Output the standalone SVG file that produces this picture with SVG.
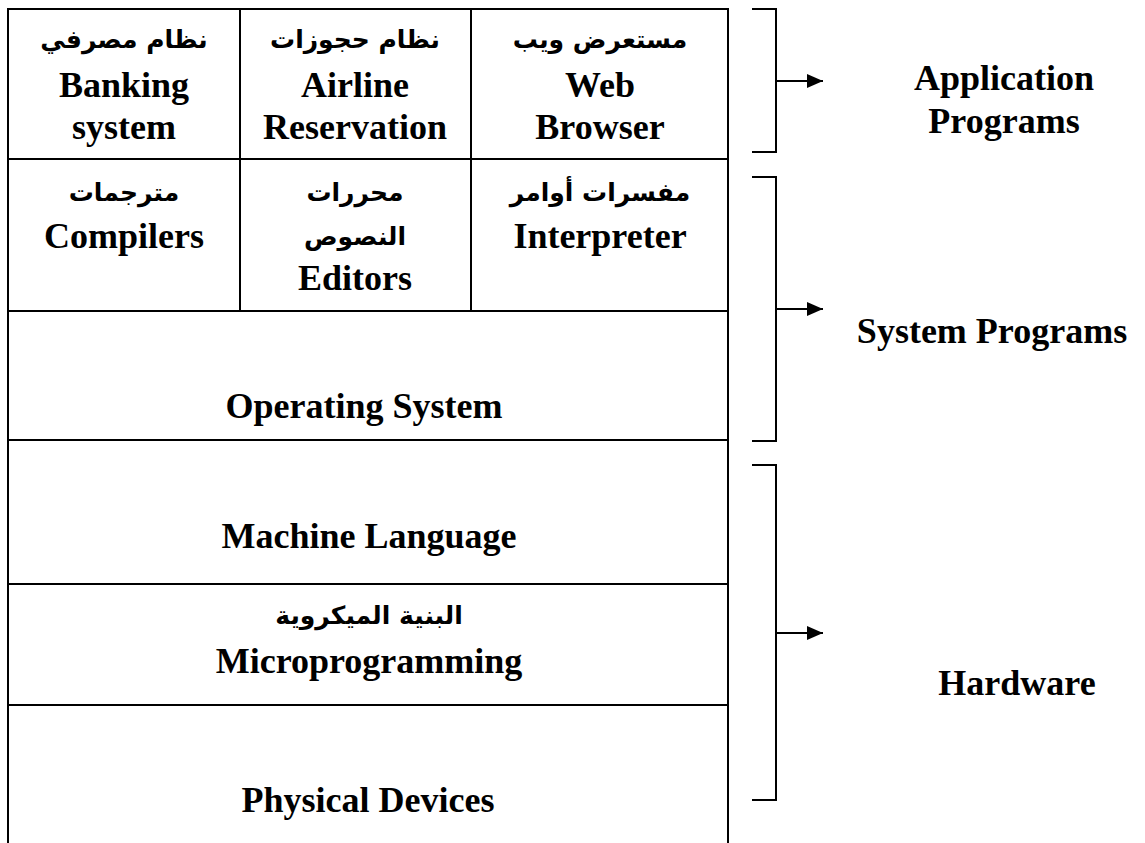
<svg xmlns="http://www.w3.org/2000/svg" width="1145" height="843" viewBox="0 0 1145 843">
<style>
.ln{stroke:#000;stroke-width:2;fill:none}
.en{font-family:"Liberation Serif","Times New Roman",serif;font-weight:bold;font-size:36px;fill:#000;text-anchor:middle}
.lb{font-family:"Liberation Serif","Times New Roman",serif;font-weight:bold;font-size:36px;fill:#000;text-anchor:middle}
.ar{font-family:"DejaVu Sans","Noto Sans",sans-serif;font-weight:bold;font-size:25px;fill:#000;text-anchor:middle;direction:rtl}
</style>
<defs>
<marker id="arr" viewBox="0 0 16 14" markerWidth="16" markerHeight="14" refX="16" refY="7" orient="auto" markerUnits="userSpaceOnUse">
<path d="M0,0 L16,7 L0,14 Z" fill="#000"/>
</marker>
</defs>
<rect width="1145" height="843" fill="#fff"/>
<g id="table">
<path class="ln" d="M8,843 V9 H728 V843"/>
<line class="ln" x1="8" y1="159" x2="728" y2="159"/>
<line class="ln" x1="8" y1="311" x2="728" y2="311"/>
<line class="ln" x1="8" y1="440" x2="728" y2="440"/>
<line class="ln" x1="8" y1="584" x2="728" y2="584"/>
<line class="ln" x1="8" y1="705" x2="728" y2="705"/>
<line class="ln" x1="240" y1="9" x2="240" y2="311"/>
<line class="ln" x1="471" y1="9" x2="471" y2="311"/>
</g>
<g id="banking">
<text class="ar" x="124" y="48">نظام مصرفي</text>
<text class="en" x="124" y="97">Banking</text>
<text class="en" x="124" y="139">system</text>
</g>
<g id="airline">
<text class="ar" x="355" y="48">نظام حجوزات</text>
<text class="en" x="355" y="97">Airline</text>
<text class="en" x="355" y="139">Reservation</text>
</g>
<g id="browser">
<text class="ar" x="600" y="48">مستعرض ويب</text>
<text class="en" x="600" y="97">Web</text>
<text class="en" x="600" y="139">Browser</text>
</g>
<g id="compilers">
<text class="ar" x="124" y="201">مترجمات</text>
<text class="en" x="124" y="248">Compilers</text>
</g>
<g id="editors">
<text class="ar" x="355" y="201">محررات</text>
<text class="ar" x="355" y="245">النصوص</text>
<text class="en" x="355" y="290">Editors</text>
</g>
<g id="interpreter">
<text class="ar" x="600" y="201">مفسرات أوامر</text>
<text class="en" x="600" y="248">Interpreter</text>
</g>
<g id="os">
<text class="en" x="364" y="418">Operating System</text>
</g>
<g id="machine">
<text class="en" x="369" y="548">Machine Language</text>
</g>
<g id="micro">
<text class="ar" x="369" y="624">البنية الميكروية</text>
<text class="en" x="369" y="673">Microprogramming</text>
</g>
<g id="physical">
<text class="en" x="368" y="812">Physical Devices</text>
</g>
<g id="connectors">
<path class="ln" d="M752,9 H776 V152 H752"/>
<line class="ln" x1="776" y1="81" x2="823" y2="81" marker-end="url(#arr)"/>
<path class="ln" d="M752,177 H776 V441 H752"/>
<line class="ln" x1="776" y1="309" x2="823" y2="309" marker-end="url(#arr)"/>
<path class="ln" d="M752,465 H776 V800 H752"/>
<line class="ln" x1="776" y1="633" x2="823" y2="633" marker-end="url(#arr)"/>
</g>
<g id="labels">
<text class="lb" x="1004" y="90">Application</text>
<text class="lb" x="1004" y="133">Programs</text>
<text class="lb" x="992" y="343">System Programs</text>
<text class="lb" x="1017" y="695">Hardware</text>
</g>
</svg>
